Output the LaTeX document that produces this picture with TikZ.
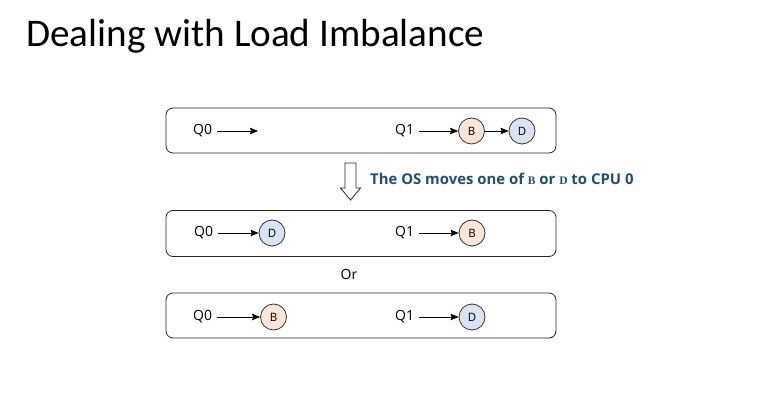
\documentclass[tikz,border=0pt]{standalone}
\usepackage{fontspec}
\setmainfont{Open Sans}
\newfontfamily\titlefont{Carlito}
\newfontfamily\scfont{Liberation Serif}
\usetikzlibrary{arrows.meta}
\definecolor{peach}{HTML}{FBE5D6}
\definecolor{lblue}{HTML}{DAE3F3}
\definecolor{navy}{HTML}{1F4E79}
\newcommand{\fakesc}[1]{{\scfont\bfseries\fontsize{11.5}{13}\selectfont #1}}
\begin{document}
\begin{tikzpicture}[x=1pt,y=-1pt,
  cpubox/.style={draw=black!85, rounded corners=7pt, line width=0.8pt, minimum width=390pt, minimum height=45pt, inner sep=0pt},
  job/.style={circle, draw=black!80, line width=0.8pt, minimum size=26pt, inner sep=0pt, font=\fontsize{11.5}{13}\selectfont},
  qlabel/.style={font=\fontsize{14}{16}\selectfont, inner sep=0pt, anchor=west},
  link/.style={-{Stealth[length=8pt,width=6.5pt,inset=1pt]}, line width=0.8pt},
  qlink/.style={link, shorten <=5pt},
  hollow/.style={draw=black!85, line width=0.8pt, fill=white}
]
\useasboundingbox (0,0) rectangle (779,419);

% title
\node[anchor=base west, inner sep=0pt, font=\titlefont\fontsize{39.2}{46}\selectfont] (title) at (26,47) {Dealing with Load Imbalance};

% box 1
\node[cpubox] (box1) at (361,130.5) {};
\node[qlabel] (q0a) at (193,131) {Q0};
\coordinate (e1) at (258,131);
\draw[qlink] (q0a.east) -- (e1);
\node[qlabel] (q1a) at (395,131) {Q1};
\node[job, fill=peach] (b1) at (471.5,131) {B};
\node[job, fill=lblue] (d1) at (522,131) {D};
\draw[qlink] (q1a.east) -- (b1.west);
\draw[link] (b1.east) -- (d1.west);

% hollow arrow
\draw[hollow] (345,163) -- (356,163) -- (356,188) -- (360.5,188) -- (350.5,200) -- (340.5,188) -- (345,188) -- cycle;
\node[anchor=west, inner sep=0pt, text=navy, font=\bfseries\fontsize{14.9}{17}\selectfont] (msg) at (370,179)
  {The OS moves one of \fakesc{B} or \fakesc{D} to CPU 0};

% box 2
\node[cpubox, minimum height=46pt] (box2) at (361,233.5) {};
\node[qlabel] (q0b) at (194,233) {Q0};
\node[job, fill=lblue] (d2) at (272,233) {D};
\draw[qlink] (q0b.east) -- (d2.west);
\node[qlabel] (q1b) at (395,233) {Q1};
\node[job, fill=peach] (b2) at (472,233) {B};
\draw[qlink] (q1b.east) -- (b2.west);

% Or
\node[font=\fontsize{14}{16}\selectfont, inner sep=0pt] (or) at (349,274) {Or};

% box 3
\node[cpubox] (box3) at (361,315.5) {};
\node[qlabel] (q0c) at (193,317) {Q0};
\node[job, fill=peach] (b3) at (273.5,317) {B};
\draw[qlink] (q0c.east) -- (b3.west);
\node[qlabel] (q1c) at (395,317) {Q1};
\node[job, fill=lblue] (d3) at (472,317) {D};
\draw[qlink] (q1c.east) -- (d3.west);
\end{tikzpicture}
\end{document}
